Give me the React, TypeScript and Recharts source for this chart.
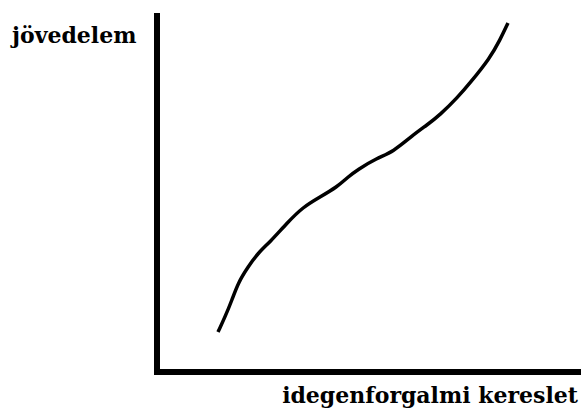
import { LineChart, Line, XAxis, YAxis } from "recharts";

// demand (x) vs income (y) in its own units
const kereslet = [61, 68, 75, 81, 91, 101, 113, 130, 146, 163, 180, 191, 200, 220, 236, 256, 270, 283, 301, 313, 333, 343, 351];
const jovedelem = [40, 55, 72, 89, 105, 119, 130, 149, 165, 175, 185, 195, 202, 214, 220, 237, 247, 257, 275, 289, 314, 332, 349];

const xLabel = "idegenforgalmi kereslet";
const yLabel = "jövedelem";

const data = kereslet.map((x, i) => ({ x, y: jovedelem[i] }));

const font = { fontFamily: "'DejaVu Serif', serif", fontWeight: 700, fontSize: 22, fill: "#000" };

export default function App() {
  return (
    <div style={{ position: "absolute", left: 0, top: 0, width: 581, height: 409, background: "#fff" }}>
      <LineChart width={581} height={409} data={data} margin={{ top: 13, right: 0, left: 155, bottom: 35 }}>
        <XAxis
          type="number"
          dataKey="x"
          domain={[0, 424]}
          tick={false}
          tickLine={false}
          height={2}
          axisLine={{ stroke: "#000", strokeWidth: 6, strokeLinecap: "square" }}
        />
        <YAxis
          type="number"
          domain={[0, 359]}
          tick={false}
          tickLine={false}
          width={2}
          axisLine={{ stroke: "#000", strokeWidth: 6 }}
        />
        <Line
          type="basis"
          dataKey="y"
          stroke="#000"
          strokeWidth={3.5}
          dot={false}
          isAnimationActive={false}
        />
      </LineChart>
      <svg width={581} height={409} style={{ position: "absolute", left: 0, top: 0, pointerEvents: "none" }}>
        <text x={12} y={43} {...font}>{yLabel}</text>
        <text x={578} y={403} textAnchor="end" {...font}>{xLabel}</text>
      </svg>
    </div>
  );
}
